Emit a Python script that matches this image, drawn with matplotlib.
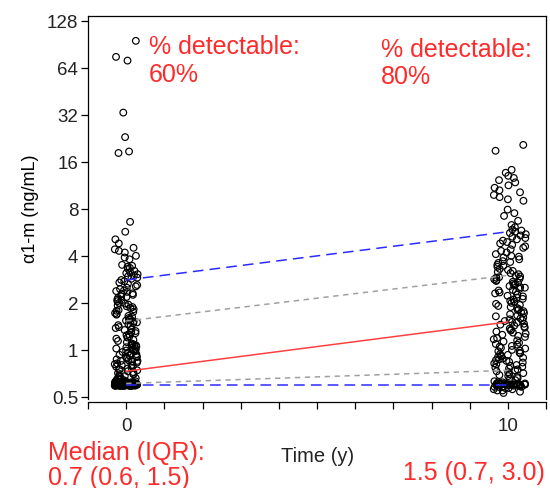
import numpy as np
import matplotlib
matplotlib.use("Agg")
import matplotlib.pyplot as plt
from matplotlib.ticker import FixedLocator, NullFormatter

plt.rcParams['font.family'] = ['Liberation Sans', 'DejaVu Sans']

# time points (years)
times = [0, 10]

# summary lines
median = [0.73, 1.51]
q1 = [0.61, 0.74]
q3 = [1.53, 3.0]
p10 = [0.6, 0.6]
p90 = [2.8, 5.7]

# alpha1-m values at baseline (ng/mL)
t0_detected = [95, 75, 71, 33, 23, 18.6, 18.2,
               6.6, 5.7, 5.1, 4.8, 4.5, 4.4, 4.3, 4.2, 4.0, 3.9, 3.8,
               3.5, 3.45, 3.4, 3.35, 3.3, 3.2, 3.15, 3.1, 3.05, 3.0, 2.95, 2.9, 2.85, 2.8,
               2.75, 2.7, 2.65, 2.6, 2.55, 2.5,
               2.45, 2.4, 2.38, 2.35, 2.3, 2.28, 2.25, 2.2, 2.18, 2.15, 2.1, 2.08, 2.05, 2.0,
               1.98, 1.95, 1.92, 1.9, 1.88, 1.85, 1.82, 1.8, 1.78, 1.75, 1.72, 1.7, 1.68, 1.65,
               1.63, 1.6, 1.58, 1.56, 1.54, 1.52, 1.5,
               1.48, 1.46, 1.44, 1.42, 1.4, 1.38, 1.36, 1.34, 1.32, 1.3, 1.28, 1.26, 1.24, 1.22,
               1.2, 1.18, 1.16, 1.14, 1.12, 1.1, 1.09, 1.08, 1.07, 1.06, 1.05, 1.04, 1.03, 1.02,
               1.01, 1.0,
               0.99, 0.98, 0.97, 0.96, 0.95, 0.94, 0.93, 0.92, 0.91, 0.9, 0.9, 0.89, 0.88, 0.87,
               0.86, 0.85, 0.85, 0.84, 0.83, 0.82, 0.81, 0.8, 0.8, 0.79, 0.78, 0.77, 0.76, 0.75,
               0.75, 0.74, 0.73, 0.72, 0.71, 0.7, 0.7, 0.69, 0.68, 0.68, 0.67, 0.66, 0.66, 0.65,
               0.65, 0.64, 0.64, 0.63, 0.63, 0.62, 0.62, 0.62]
t0_lod = [0.6, 0.61, 0.59, 0.62, 0.6, 0.6, 0.61, 0.59, 0.6, 0.62, 0.6, 0.61, 0.6, 0.59,
          0.6, 0.6, 0.62, 0.61, 0.6, 0.59, 0.6, 0.61, 0.6, 0.6, 0.62, 0.59, 0.6, 0.61,
          0.6, 0.6, 0.59, 0.62, 0.6, 0.61, 0.6, 0.6, 0.59, 0.6, 0.62, 0.61, 0.6, 0.6,
          0.59, 0.61, 0.6, 0.62, 0.6, 0.6, 0.61, 0.59] * 2

# alpha1-m values at 10 years (ng/mL)
t10_detected = [20.5, 18.8, 14.2, 13.6, 13.0, 12.6, 12.2, 11.8, 11.3, 10.9, 10.5, 10.2,
                9.8, 9.5, 9.2, 9.0, 7.9, 7.5, 7.2, 6.7, 6.3, 6.1,
                5.9, 5.8, 5.7, 5.6, 5.5, 5.4, 5.3, 5.2, 5.1, 5.0, 4.9, 4.8, 4.7, 4.6, 4.5,
                4.4, 4.3, 4.2, 4.1, 4.0, 3.95, 3.9, 3.8, 3.7, 3.65, 3.6, 3.5, 3.45, 3.4, 3.3,
                3.25, 3.2, 3.15, 3.1, 3.05,
                2.98, 2.95, 2.92, 2.9, 2.86, 2.83, 2.8, 2.76, 2.73, 2.7, 2.66, 2.62, 2.6, 2.56,
                2.52, 2.5, 2.46, 2.42, 2.4, 2.36, 2.33, 2.3, 2.26, 2.22, 2.2, 2.16, 2.12, 2.1,
                2.06, 2.03, 2.0, 1.97, 1.94, 1.91, 1.88, 1.85, 1.82, 1.8, 1.77, 1.74, 1.72,
                1.69, 1.66, 1.64, 1.61, 1.59, 1.57, 1.55, 1.53, 1.51,
                1.49, 1.47, 1.45, 1.43, 1.41, 1.39, 1.37, 1.35, 1.33, 1.31, 1.29, 1.27, 1.25,
                1.23, 1.21, 1.19, 1.17, 1.15, 1.13, 1.11, 1.09, 1.08, 1.06, 1.05, 1.03, 1.02,
                1.0, 0.99, 0.98, 0.96, 0.95, 0.94, 0.93, 0.92, 0.91, 0.9, 0.89, 0.88, 0.87,
                0.86, 0.85, 0.84, 0.83, 0.82, 0.81, 0.8, 0.79, 0.78, 0.77, 0.76, 0.75,
                0.74, 0.73, 0.72, 0.71, 0.7, 0.69, 0.68, 0.67, 0.66, 0.65, 0.64, 0.63, 0.62]
t10_lod = [0.62, 0.61, 0.6, 0.6, 0.59, 0.6, 0.58, 0.61, 0.6, 0.57, 0.6, 0.59, 0.56, 0.6,
           0.61, 0.55, 0.6, 0.58, 0.6, 0.54, 0.6, 0.59, 0.61, 0.6, 0.53, 0.6, 0.58, 0.6,
           0.56, 0.6, 0.6, 0.59, 0.61, 0.57, 0.6, 0.55, 0.6, 0.6, 0.58, 0.6]

ytick_vals = [0.5, 1, 2, 4, 8, 16, 32, 64, 128]
ytick_labels = ['0.5', '1', '2', '4', '8', '16', '32', '64', '128']

pct_detect = ['60%', '80%']
median_iqr = ['0.7 (0.6, 1.5)', '1.5 (0.7, 3.0)']

RED = '#ff2a2a'

fig = plt.figure(figsize=(5.5, 4.89), dpi=100)
ax = fig.add_axes([88/550, 1 - 400/489, 458/550, 383/489])


def jitter(n, width):
    # fixed sideways spread (hash of the index) so points don't pile up
    idx = np.arange(n) + 1.0
    u = np.abs(np.sin(idx * 12.9898) * 43758.5453) % 1.0
    return width * (u * 2 - 1)


groups = [(times[0], t0_detected + t0_lod, 0.3, 0.0),
          (times[1], t10_detected + t10_lod, 0.42, 0.05)]
for t, vals, w, shift in groups:
    vals = np.array(vals)
    xs = t + shift + jitter(len(vals), w)
    ax.scatter(xs, vals, s=23, facecolors='none', edgecolors='black',
               linewidths=0.85, zorder=2)

ax.plot(times, p90, color='#2b2bff', lw=1.1, ls=(0, (7, 4)), zorder=3)
ax.plot(times, p10, color='#2b2bff', lw=1.1, ls=(0, (7, 4)), zorder=3)
ax.plot(times, q3, color='#a0a0a0', lw=1.1, ls=(0, (3.5, 3)), zorder=3)
ax.plot(times, q1, color='#a0a0a0', lw=1.1, ls=(0, (3.5, 3)), zorder=3)
ax.plot(times, median, color='#ff4040', lw=1.1, zorder=3)

ax.set_yscale('log', base=2)
ax.set_ylim(0.485, 137)
ax.yaxis.set_major_locator(FixedLocator(ytick_vals))
ax.yaxis.set_minor_locator(FixedLocator([]))
ax.set_yticklabels(ytick_labels)

ax.set_xlim(-1, 11)
ax.set_xticks(times)
ax.set_xticklabels(['0', '10'])
ax.xaxis.set_minor_locator(FixedLocator(range(-1, 12)))
ax.xaxis.set_minor_formatter(NullFormatter())

ax.tick_params(axis='both', which='both', direction='out', length=5, width=0.9,
               colors='black', labelsize=13.5, labelcolor='#222222')
ax.tick_params(axis='x', pad=6)
ax.tick_params(axis='y', pad=2)
for sp in ax.spines.values():
    sp.set_linewidth(0.9)
ax.spines['bottom'].set_position(('outward', 2))

ax.set_ylabel('\u03b11-m (ng/mL)', fontsize=13, labelpad=6)
fig.text(318/550, 1 - 462/489, 'Time (y)', fontsize=14.5, ha='center',
         va='baseline', color='#222222')

# annotations
fig.text(149/550, 1 - 54/489, '% detectable:', fontsize=18, color=RED, va='baseline')
fig.text(149/550, 1 - 82/489, pct_detect[0], fontsize=18, color=RED, va='baseline')
fig.text(381/550, 1 - 57/489, '% detectable:', fontsize=18, color=RED, va='baseline')
fig.text(381/550, 1 - 84/489, pct_detect[1], fontsize=18, color=RED, va='baseline')

fig.text(48/550, 1 - 460/489, 'Median (IQR):', fontsize=18, color=RED, va='baseline')
fig.text(48/550, 1 - 485/489, median_iqr[0], fontsize=18, color=RED, va='baseline')
fig.text(545/550, 1 - 480/489, median_iqr[1], fontsize=18, color=RED, va='baseline',
         ha='right')

fig.savefig('out.png', dpi=100)
